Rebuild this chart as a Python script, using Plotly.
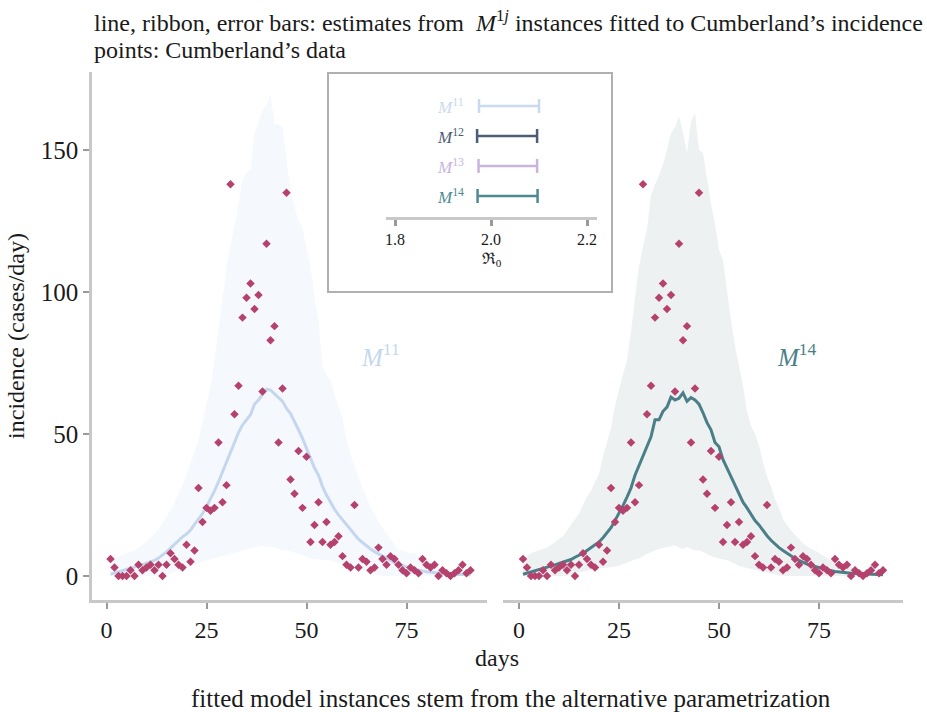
import plotly.graph_objects as go

# ---- observed incidence (Cumberland), days 1..91 ----
days = list(range(1, 92))
cases = [6, 3, 0, 0, 0, 2, 0, 4, 2, 3, 4, 2, 4, 0, 4, 8, 6, 4, 3, 11,
         5, 9, 31, 19, 24, 23, 24, 47, 26, 32, 138, 57, 67, 91, 98, 103, 94, 99, 65, 117,
         83, 88, 47, 66, 135, 34, 29, 44, 24, 42, 12, 18, 26, 12, 19, 11, 12, 14, 7, 4,
         3, 25, 3, 6, 5, 2, 3, 10, 6, 4, 7, 6, 4, 2, 1, 3, 2, 1, 6, 4,
         3, 4, 0, 2, 1, 0, 1, 2, 4, 1, 2]

# ---- M11 estimates: median line and ribbon ----
m11_mid = [0.6, 1.0, 1.4, 1.9, 2.3, 2.7, 3.1, 3.5, 4.0, 4.5, 5.0, 5.5, 6.3, 7.3, 8.5, 9.8, 11.2, 12.4, 13.8, 14.8,
           16.2, 18.2, 20.0, 22.0, 24.4, 27.0, 30.0, 33.2, 36.6, 40.2, 44.0, 47.3, 50.5, 53.2, 55.0, 56.8, 60.5, 62.0, 64.0, 65.8,
           65.5, 64.0, 62.8, 61.5, 59.0, 57.2, 54.5, 51.5, 48.5, 45.0, 41.5, 38.0, 35.5, 31.5, 28.5, 25.8, 23.5, 21.5, 19.8, 18.0,
           16.2, 14.5, 13.0, 11.8, 10.5, 9.5, 8.6, 7.8, 7.0, 6.0, 5.3, 4.7, 4.2, 3.6, 3.2, 2.8, 2.4, 2.1, 1.8, 1.5,
           1.3, 1.1, 1.0, 0.8, 0.7, 0.6, 0.6, 0.5, 0.5, 0.4, 0.4]
m11_hi = [5.6, 6, 6.5, 7.5, 8, 8.5, 9, 10, 11, 12, 13.5, 15, 16.5, 19, 21, 23, 26, 29, 32, 36,
          40, 44, 48, 54, 60, 67, 76, 86, 97, 109, 116, 124, 131, 140, 142, 143, 156, 160, 164, 166,
          170, 159, 159, 158, 146, 136, 130, 125, 123, 115, 109, 98, 90, 74, 71, 69, 64, 60, 56, 48,
          43, 39, 35, 31, 28, 24, 22, 19, 17, 15, 13, 11, 9, 9, 8.5, 8, 8, 7, 6, 5,
          4.5, 3.5, 3, 2, 1.5, 1.2, 1, 1, 1, 1, 1]
m11_lo = [0, 0, 0, 0, 0, 0, 0, 0, 0, 0, 0, 0, 0, 0, 0.5, 1, 1.5, 2, 2.5, 3,
          3.5, 4, 4.5, 5, 5.5, 6, 6.3, 6.6, 7, 7.3, 7.6, 8, 8.5, 9, 9.3, 9.6, 10, 10.3, 10.5, 10.3,
          10, 10.3, 9.5, 9, 9, 8.6, 8.3, 8, 7.3, 6.8, 6.2, 6, 6, 5.8, 5.6, 5.6, 5, 4.5, 4, 3.5,
          3.2, 2.8, 2.3, 1.8, 1.5, 1, 0.6, 0.3, 0, 0, 0, 0, 0, 0, 0, 0, 0, 0, 0, 0,
          0, 0, 0, 0, 0, 0, 0, 0, 0, 0, 0]

# ---- M14 estimates: median line and ribbon ----
m14_mid = [0.6, 1.0, 1.3, 1.7, 2.2, 2.7, 3.0, 3.4, 3.9, 4.4, 4.8, 5.3, 5.8, 6.6, 7.3, 8.0, 9.0, 10.0, 11.0, 12.0,
           13.5, 15.2, 17.0, 19.5, 22.0, 24.8, 27.8, 31.0, 35.5, 39.0, 42.5, 46.0, 49.0, 55.0, 55.0, 58.0, 59.5, 63.0, 62.0, 62.6,
           64.5, 61.5, 62.8, 62.0, 60.5, 57.5, 54.0, 51.5, 47.0, 45.5, 41.0, 38.0, 35.0, 32.5, 29.0, 26.0, 24.0, 21.5, 19.5, 18.0,
           16.0, 14.2, 12.6, 11.2, 10.0, 9.0, 8.0, 7.0, 6.2, 5.5, 4.8, 4.2, 3.7, 3.3, 2.9, 2.5, 2.2, 1.9, 1.6, 1.4,
           1.2, 1.1, 1.0, 0.9, 0.8, 0.7, 0.6, 0.5, 0.5, 0.4, 0.4]
m14_hi = [6, 7, 8, 8.5, 9, 9.5, 10, 11, 12, 13, 14, 16, 18, 19.7, 22, 25, 28, 30, 33, 36,
          42, 47, 52, 60, 66, 71, 76, 86, 98, 109, 116, 122, 134, 138, 141, 145, 150, 156, 158, 162,
          156, 149, 160, 163, 150, 149, 140, 131, 124, 115, 111, 100, 90, 81, 74, 67, 58, 53, 50, 46,
          40, 35, 31.5, 27, 24, 20, 18, 16, 14.5, 13, 11.5, 10.5, 9.5, 9, 8, 7, 6.3, 5.5, 5, 4.5,
          4, 3.5, 3, 2.5, 2.2, 2, 1.8, 1.7, 1.6, 1.5, 1.5]
m14_lo = [0, 0, 0, 0, 0, 0, 0, 0, 0, 0, 0, 0, 0.5, 1, 1.3, 1.6, 2, 2.2, 2.5, 2.7,
          2.9, 3, 3.2, 3.3, 3.6, 4, 4.6, 5.2, 5.8, 6.2, 7, 7.8, 8.5, 9, 9.5, 9.8, 10.2, 10.5, 10.8, 10,
          9.5, 10.2, 9.4, 9, 9, 8.5, 7.8, 7, 6.5, 6.2, 5.8, 5.6, 5, 4.3, 3.6, 3.2, 2.8, 2.4, 2, 1.7,
          1.5, 1.2, 0.9, 0.6, 0.3, 0, 0, 0, 0, 0, 0, 0, 0, 0, 0, 0, 0, 0, 0, 0,
          0, 0, 0, 0, 0, 0, 0, 0, 0, 0, 0]

# ---- R0 interval estimates per model instance ----
models = ["M11", "M12", "M13", "M14"]
model_labels = ["<i>M</i><sup>11</sup>", "<i>M</i><sup>12</sup>",
                "<i>M</i><sup>13</sup>", "<i>M</i><sup>14</sup>"]
r0_low = [1.975, 1.971, 1.974, 1.972]
r0_high = [2.100, 2.096, 2.096, 2.097]
model_colors = ["#c9daf0", "#4e5d76", "#c9b4de", "#4f8a92"]
rows = [4, 3, 2, 1]

FONT = "Liberation Serif, Times New Roman, serif"
TXT = "#1a1a1a"
POINT = "#b5416d"
AXIS_LINE = "#c8c8c8"
TICK = "#9a9a9a"

fig = go.Figure()


def ribbon(xa, lo, hi, color):
    return go.Scatter(x=days + days[::-1], y=hi + lo[::-1], fill="toself",
                      fillcolor=color, line=dict(width=0), mode="lines",
                      hoverinfo="skip", showlegend=False, xaxis=xa, yaxis="y")


# left panel: M11
fig.add_trace(ribbon("x", m11_lo, m11_hi, "#f5f9fd"))
fig.add_trace(go.Scatter(x=days, y=m11_mid, mode="lines", line=dict(color="#c5d7ee", width=3),
                         showlegend=False, xaxis="x", yaxis="y"))
fig.add_trace(go.Scatter(x=days, y=cases, mode="markers",
                         marker=dict(symbol="diamond", size=6.5, color=POINT),
                         showlegend=False, xaxis="x", yaxis="y"))

# right panel: M14
fig.add_trace(ribbon("x2", m14_lo, m14_hi, "#edf1f2"))
fig.add_trace(go.Scatter(x=days, y=m14_mid, mode="lines", line=dict(color="#4b7f88", width=3),
                         showlegend=False, xaxis="x2", yaxis="y"))
fig.add_trace(go.Scatter(x=days, y=cases, mode="markers",
                         marker=dict(symbol="diamond", size=6.5, color=POINT),
                         showlegend=False, xaxis="x2", yaxis="y"))

# inset: R0 intervals
for lo, hi, c, r in zip(r0_low, r0_high, model_colors, rows):
    mid = (lo + hi) / 2
    fig.add_trace(go.Scatter(
        x=[mid], y=[r], mode="markers",
        marker=dict(size=1, color="rgba(0,0,0,0)"),
        error_x=dict(type="data", symmetric=False, array=[hi - mid], arrayminus=[mid - lo],
                     color=c, thickness=2.5, width=7),
        showlegend=False, xaxis="x3", yaxis="y3"))

# pixel geometry helpers
L, R, T, B = 92, 24, 72, 112
W, H = 927, 712
pw, ph = W - L - R, H - T - B


def px_x(p):
    return (p - L) / pw


def px_y(p):
    return (H - B - p) / ph


xcommon = dict(tickvals=[0, 25, 50, 75], ticks="outside", ticklen=6, tickwidth=2,
               tickcolor=TICK, showline=True, linecolor=AXIS_LINE, linewidth=2.5,
               showgrid=False, zeroline=False, tickfont=dict(size=24, color=TXT, family=FONT))

fig.update_layout(
    width=W, height=H,
    margin=dict(l=L, r=R, t=T, b=B),
    paper_bgcolor="white", plot_bgcolor="white",
    font=dict(family=FONT, color=TXT),
    xaxis=dict(domain=[0, px_x(487)], range=[-3.625, 95.125], anchor="y", **xcommon),
    xaxis2=dict(domain=[px_x(503), 1], range=[-4.0, 96.0], anchor="y", **xcommon),
    yaxis=dict(range=[-8.45, 177.5], tickvals=[0, 50, 100, 150], ticks="outside", ticklen=6,
               tickwidth=2, tickcolor=TICK, showline=True, linecolor=AXIS_LINE, linewidth=2.5,
               showgrid=False, zeroline=False, anchor="x",
               tickfont=dict(size=25, color=TXT, family=FONT),
               title=dict(text="incidence (cases/day)", font=dict(size=24, family=FONT, color=TXT),
                          standoff=10)),
    xaxis3=dict(domain=[px_x(386), px_x(597)], range=[1.78125, 2.2208], anchor="y3",
                tickvals=[1.8, 2.0, 2.2], ticktext=["1.8", "2.0", "2.2"], ticks="outside",
                ticklen=6, tickwidth=3, tickcolor=TICK, showline=True, linecolor=AXIS_LINE,
                linewidth=3, showgrid=False, zeroline=False,
                tickfont=dict(size=16, color=TXT, family=FONT),
                title=dict(text="ℜ<sub>0</sub>", font=dict(size=16, family=FONT, color=TXT),
                           standoff=6)),
    yaxis3=dict(domain=[px_y(217), px_y(90)], range=[0.3, 4.533], anchor="x3",
                visible=False),
    shapes=[dict(type="rect", xref="paper", yref="paper",
                 x0=px_x(328), x1=px_x(612), y0=px_y(292), y1=px_y(73),
                 line=dict(color="#b0b0b0", width=2), fillcolor="white", layer="below")],
)

ann = []
# inset row labels
for lab, c, r in zip(model_labels, model_colors, rows):
    ann.append(dict(text=lab, x=1.948, y=r, xref="x3", yref="y3", xanchor="right",
                    yanchor="middle", align="right", showarrow=False,
                    font=dict(size=17, color=c, family=FONT)))
# panel labels
ann.append(dict(text="<i>M</i><sup>11</sup>", x=68.4, y=77.8, xref="x", yref="y",
                showarrow=False, font=dict(size=25, color="#c5d7ee", family=FONT)))
ann.append(dict(text="<i>M</i><sup>14</sup>", x=69.5, y=77.8, xref="x2", yref="y",
                showarrow=False, font=dict(size=25, color="#4b7f88", family=FONT)))
# titles and captions
ann.append(dict(text="line, ribbon, error bars: estimates from  <i>M</i><sup>1<i>j</i></sup> instances fitted to Cumberland’s incidence",
                x=px_x(92), y=px_y(21), xref="paper", yref="paper", xanchor="left", align="left",
                yanchor="middle", showarrow=False, font=dict(size=24, family=FONT, color=TXT)))
ann.append(dict(text="points: Cumberland’s data",
                x=px_x(92), y=px_y(50), xref="paper", yref="paper", xanchor="left", align="left",
                yanchor="middle", showarrow=False, font=dict(size=24, family=FONT, color=TXT)))
ann.append(dict(text="days", x=px_x(497), y=px_y(658), xref="paper", yref="paper",
                xanchor="center", yanchor="middle", showarrow=False,
                font=dict(size=24, family=FONT, color=TXT)))
ann.append(dict(text="fitted model instances stem from the alternative parametrization",
                x=px_x(511), y=px_y(698), xref="paper", yref="paper",
                xanchor="center", yanchor="middle", showarrow=False,
                font=dict(size=25, family=FONT, color=TXT)))
fig.update_layout(annotations=ann)

fig.write_html("out.html")
